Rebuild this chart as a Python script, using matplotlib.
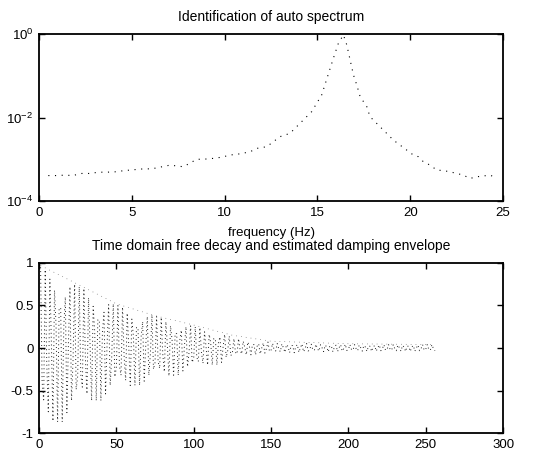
import numpy as np
import matplotlib
matplotlib.use("Agg")
import matplotlib.pyplot as plt

plt.rcParams['font.family'] = ['Liberation Sans', 'DejaVu Sans']
plt.rcParams['axes.unicode_minus'] = False
plt.rcParams['mathtext.fontset'] = 'custom'
plt.rcParams['mathtext.rm'] = 'Liberation Sans'

# ---------------- data ----------------
top_title = "Identification of auto spectrum"
top_xlabel = "frequency (Hz)"
bottom_title = "Time domain free decay and estimated damping envelope"

freq = [0.50, 0.95, 1.40, 1.81, 2.30, 2.75, 3.20, 3.65, 4.09, 4.63, 5.62, 6.07,
        7.06, 7.78, 8.50, 8.85, 9.39, 9.84, 10.29, 10.83, 11.37, 11.73, 12.27,
        12.98, 13.52, 13.97, 14.33, 14.69, 15.23, 15.86, 16.13, 16.40, 16.58,
        16.76, 16.94, 17.12, 17.30, 17.66, 17.83, 18.28, 18.91, 19.09, 20.17,
        20.44, 20.71, 21.07, 21.43, 21.78, 22.14, 22.51, 22.86, 23.22, 23.58,
        23.94, 24.30, 24.66]
spectrum = [4.07e-4, 4.07e-4, 4.17e-4, 4.07e-4, 4.57e-4, 4.57e-4, 4.90e-4, 4.90e-4,
            5.0e-4, 5.37e-4, 5.89e-4, 5.89e-4, 7.24e-4, 6.61e-4, 1.0e-3, 1.0e-3,
            1.05e-3, 1.12e-3, 1.26e-3, 1.35e-3, 1.51e-3, 1.82e-3, 2.0e-3, 3.47e-3,
            4.17e-3, 6.61e-3, 9.55e-3, 1.38e-2, 3.47e-2, 0.263, 0.603, 0.95, 0.55,
            0.24, 0.105, 0.060, 0.0316, 0.0182, 0.0105, 6.61e-3, 3.47e-3, 2.88e-3,
            1.26e-3, 1.15e-3, 8.7e-4, 7.24e-4, 5.5e-4, 5.37e-4, 5.0e-4, 4.57e-4,
            4.17e-4, 3.47e-4, 3.8e-4, 3.98e-4, 4.17e-4, 3.55e-4]

decay = [0.95, -0.40, -0.61, 0.92, -0.18, -0.75, 0.81, 0.06, -0.86, 0.68,
         0.27, -0.87, 0.47, 0.47, -0.87, 0.25, 0.60, -0.76, 0.05, 0.72,
         -0.62, -0.14, 0.75, -0.49, -0.33, 0.72, -0.31, -0.46, 0.70, -0.13,
         -0.54, 0.59, 0.04, -0.62, 0.49, 0.19, -0.62, 0.33, 0.33, -0.62,
         0.18, 0.42, -0.54, 0.04, 0.51, -0.44, -0.10, 0.52, -0.34, -0.23,
         0.50, -0.21, -0.32, 0.48, -0.09, -0.38, 0.41, 0.03, -0.44, 0.34,
         0.14, -0.44, 0.24, 0.24, -0.44, 0.13, 0.31, -0.39, 0.03, 0.37,
         -0.32, -0.07, 0.39, -0.25, -0.17, 0.37, -0.16, -0.24, 0.36, -0.07,
         -0.28, 0.31, 0.02, -0.33, 0.26, 0.10, -0.32, 0.17, 0.17, -0.32,
         0.09, 0.21, -0.27, 0.02, 0.25, -0.22, -0.05, 0.26, -0.17, -0.12,
         0.25, -0.11, -0.16, 0.24, -0.05, -0.18, 0.19, 0.01, -0.20, 0.16,
         0.06, -0.20, 0.11, 0.11, -0.20, 0.06, 0.13, -0.17, 0.01, 0.16,
         -0.11, -0.03, 0.14, -0.09, -0.06, 0.11, -0.05, -0.07, 0.11, -0.02,
         -0.07, 0.08, 0.01, -0.08, 0.07, 0.02, -0.08, 0.04, 0.04, -0.08,
         0.02, 0.05, -0.07, 0.00, 0.06, -0.06, -0.01, 0.07, -0.04, -0.03,
         0.055, -0.023, -0.035, 0.053, -0.010, -0.044, 0.048, 0.003, -0.051, 0.040,
         0.017, -0.055, 0.029, 0.029, -0.055, 0.017, 0.040, -0.051, 0.003, 0.048,
         -0.044, -0.010, 0.053, -0.035, -0.023, 0.045, -0.019, -0.029, 0.044, -0.008,
         -0.036, 0.039, 0.003, -0.042, 0.033, 0.014, -0.045, 0.024, 0.024, -0.045,
         0.014, 0.033, -0.042, 0.003, 0.039, -0.036, -0.008, 0.044, -0.029, -0.019,
         0.040, -0.017, -0.025, 0.039, -0.007, -0.032, 0.035, 0.003, -0.037, 0.029,
         0.012, -0.040, 0.021, 0.021, -0.040, 0.012, 0.029, -0.037, 0.003, 0.035,
         -0.032, -0.007, 0.039, -0.025, -0.017, 0.040, -0.017, -0.025, 0.039, -0.007,
         -0.032, 0.035, 0.003, -0.037, 0.029, 0.012, -0.040, 0.021, 0.021, -0.040,
         0.012, 0.029, -0.037, 0.003, 0.035, -0.032, -0.007, 0.039, -0.025, -0.017,
         0.040, -0.017, -0.025, 0.039, -0.007, -0.032]

env_t = [1, 25, 50, 75, 100, 125, 150, 200, 256]
env_v = [0.97, 0.75, 0.52, 0.38, 0.27, 0.15, 0.08, 0.05, 0.04]

top_xticks = [0, 5, 10, 15, 20, 25]
top_yticks = [1e-4, 1e-2, 1e0]
top_yticklabels = [r'$10^{-4}$', r'$10^{-2}$', r'$10^{0}$']
bot_xticks = [0, 50, 100, 150, 200, 250, 300]
bot_yticks = [-1, -0.5, 0, 0.5, 1]
bot_yticklabels = ['-1', '-0.5', '0', '0.5', '1']

# ---------------- figure ----------------
fig = plt.figure(figsize=(5.52, 4.76), dpi=100)
ax1 = fig.add_axes([0.0707, 0.5777, 0.8406, 0.3509])
ax2 = fig.add_axes([0.0707, 0.0903, 0.8406, 0.3572])

for ax in (ax1, ax2):
    for s in ax.spines.values():
        s.set_linewidth(1.3)
        s.set_color('black')
    ax.tick_params(direction='in', top=True, right=True, length=4, width=1.0,
                   labelsize=9.5, colors='black', pad=4)

# top: spectrum
ax1.plot(freq, spectrum, linestyle=(0, (1, 5)), color='black', linewidth=0.8)
ax1.set_yscale('log')
ax1.set_xlim(0, 25)
ax1.set_ylim(1e-4, 1e0)
ax1.set_xticks(top_xticks)
ax1.set_xticklabels([str(v) for v in top_xticks])
ax1.set_yticks(top_yticks)
ax1.set_yticklabels(top_yticklabels)
ax1.yaxis.set_minor_locator(matplotlib.ticker.NullLocator())
ax1.set_title(top_title, fontsize=10, pad=9)
ax1.set_xlabel(top_xlabel, fontsize=9.5, labelpad=6)

# bottom: time decay
t = np.arange(1, len(decay) + 1)
ax2.plot(t, decay, linestyle=(0, (1, 3)), color='#222222', linewidth=0.7)
ax2.plot(env_t, env_v, linestyle=(0, (1, 6)), color='#555555', linewidth=0.5)
ax2.set_xlim(0, 300)
ax2.set_ylim(-1, 1)
ax2.set_xticks(bot_xticks)
ax2.set_xticklabels([str(v) for v in bot_xticks])
ax2.set_yticks(bot_yticks)
ax2.set_yticklabels(bot_yticklabels)
ax2.set_title(bottom_title, fontsize=10, pad=9)

fig.savefig("out.png", dpi=100, facecolor='white')
